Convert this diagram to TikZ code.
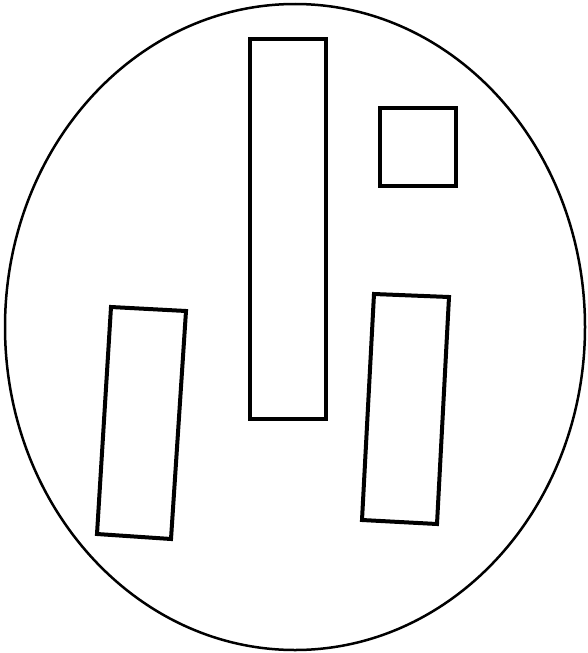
\documentclass[tikz,border=0pt]{standalone}
\begin{document}
\begin{tikzpicture}[x=1pt,y=-1pt,
  outline/.style={draw=black,line width=2.5pt},
  slab/.style={draw=black,line width=4pt,line join=miter}]
\useasboundingbox (0,0) rectangle (588,653);
\draw[outline] (295,327) ellipse [x radius=290, y radius=323];
% tall centre rectangle
\draw[slab] (250,39) rectangle (326,419);
% small square
\draw[slab] (380,108) rectangle (456,186);
% left tilted rectangle
\draw[slab] (111,307) -- (186,311) -- (171,539) -- (97,534) -- cycle;
% right tilted rectangle
\draw[slab] (374,294) -- (449,297) -- (437,524) -- (362,520) -- cycle;
\end{tikzpicture}
\end{document}
